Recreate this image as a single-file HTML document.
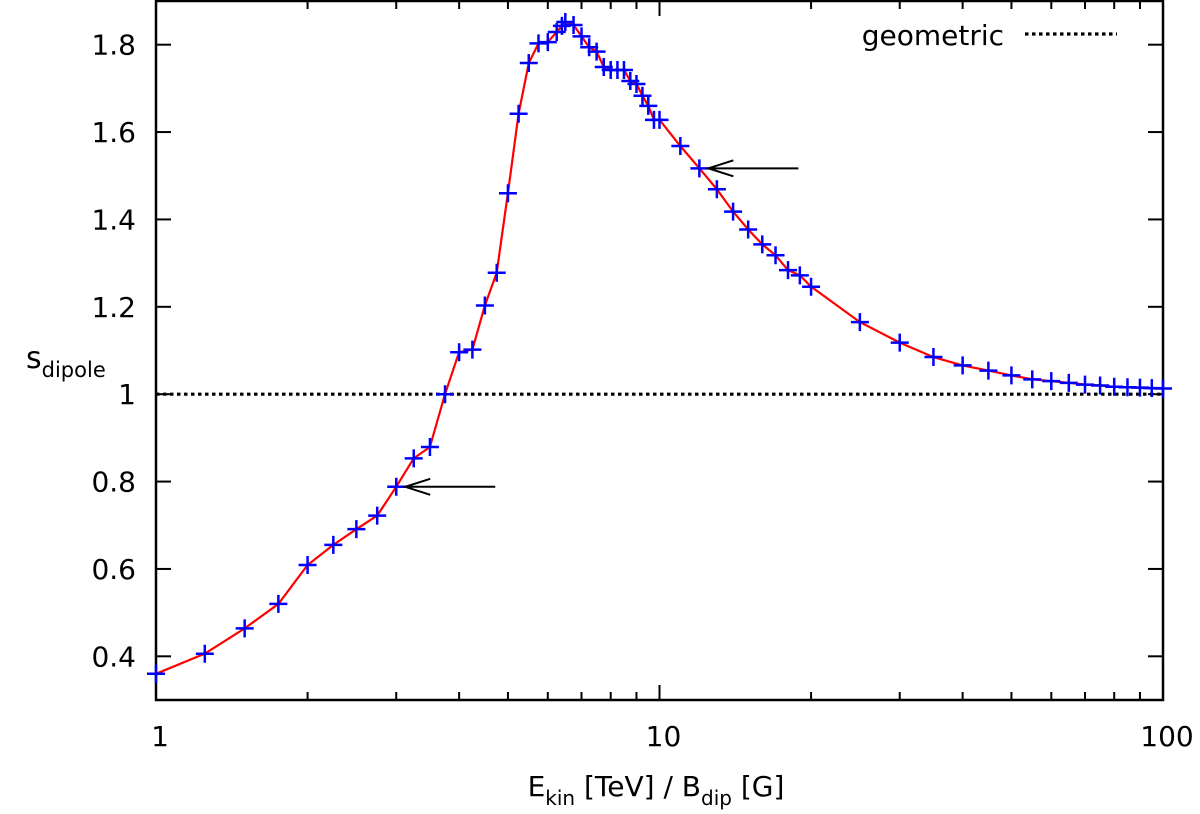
<!DOCTYPE html>
<html><head><meta charset="utf-8"><style>
html,body{margin:0;padding:0;background:#fff;}
svg{display:block;font-family:"DejaVu Sans","Liberation Sans",sans-serif;}
</style></head><body>
<svg id="chart" width="1200" height="814" viewBox="0 0 1200 814" xmlns="http://www.w3.org/2000/svg">
<g id="axes"></g>
<g id="marks"></g>
<g id="legend">
<text x="1004" y="45" font-size="28" text-anchor="end">geometric</text>
<line x1="1025" y1="34" x2="1117" y2="34" stroke="#000" stroke-width="3.2" stroke-dasharray="3.5,3.5"/>
</g>
<text x="26" y="368" font-size="30">s<tspan font-size="21" dy="9">dipole</tspan></text>
<text x="656" y="796" font-size="28" text-anchor="middle">E<tspan font-size="20" dy="9">kin</tspan><tspan dy="-9"> [TeV] / B</tspan><tspan font-size="20" dy="9">dip</tspan><tspan dy="-9"> [G]</tspan></text>
</svg>
<script>
const xValues=[1,1.25,1.5,1.75,2,2.25,2.5,2.75,3,3.25,3.5,3.75,4,4.25,4.5,4.75,5,5.25,5.5,5.75,6,6.25,6.4,6.5,6.75,7,7.25,7.5,7.75,8,8.25,8.5,8.75,9,9.25,9.5,9.75,10,11,12,13,14,15,16,17,18,19,20,25,30,35,40,45,50,55,60,65,70,75,80,85,90,95,100];
const yValues=[0.36,0.406,0.464,0.52,0.609,0.655,0.691,0.722,0.788,0.853,0.879,1.0,1.096,1.102,1.203,1.278,1.46,1.642,1.758,1.803,1.806,1.829,1.843,1.852,1.845,1.819,1.794,1.784,1.749,1.742,1.742,1.742,1.717,1.71,1.683,1.66,1.628,1.628,1.568,1.517,1.469,1.418,1.377,1.343,1.318,1.284,1.272,1.246,1.165,1.118,1.085,1.066,1.054,1.043,1.034,1.03,1.026,1.022,1.02,1.017,1.016,1.015,1.014,1.013];
const yTicks=[0.4,0.6,0.8,1.0,1.2,1.4,1.6,1.8];
const yTickLabels=["0.4","0.6","0.8","1","1.2","1.4","1.6","1.8"];
const xMajor=[1,10,100];
const xMajorLabels=["1","10","100"];
const geometricValue=1.0;
const arrowPoints=[[3.0,0.788],[12.0,1.517]];

const L=156,R=1163,T=1,B=700,Y0=0.3,Y1=1.9;
function sx(v){return L+(R-L)/2*Math.log10(v);}
function sy(v){return B-(v-Y0)/(Y1-Y0)*(B-T);}
const NS="http://www.w3.org/2000/svg";
function mk(tag,attrs,parent){const e=document.createElementNS(NS,tag);for(const k in attrs)e.setAttribute(k,attrs[k]);parent.appendChild(e);return e;}
const ax=document.getElementById('axes'),mg=document.getElementById('marks');

yTicks.forEach((v,i)=>{
  const y=sy(v);
  let t=mk('line',{x1:L,y1:y,x2:L+15,y2:y,stroke:'#000','stroke-width':2},ax);
  
  
  t=mk('line',{x1:R-15,y1:y,x2:R,y2:y,stroke:'#000','stroke-width':2},ax);
  
  
  const lb=mk('text',{x:L-20,y:y+10,'font-size':28,'text-anchor':'end'},ax);
  lb.textContent=yTickLabels[i];
  
  
});
for(let d=1;d<100;d*=10){for(let m=2;m<=9;m++){const x=sx(d*m);
  let t=mk('line',{x1:x,y1:B,x2:x,y2:B-8,stroke:'#000','stroke-width':2},ax);
  
  
  t=mk('line',{x1:x,y1:T,x2:x,y2:T+8,stroke:'#000','stroke-width':2},ax);
  
  
}}
xMajor.forEach((v,i)=>{const x=sx(v);
  let t=mk('line',{x1:x,y1:B,x2:x,y2:B-15,stroke:'#000','stroke-width':2},ax);
  
  
  t=mk('line',{x1:x,y1:T,x2:x,y2:T+15,stroke:'#000','stroke-width':2},ax);
  
  
  const lb=mk('text',{x:x+4,y:746,'font-size':28,'text-anchor':'middle'},ax);
  lb.textContent=xMajorLabels[i];
  
  
});
const fr=mk('rect',{x:L,y:T,width:R-L,height:B-T,fill:'none',stroke:'#000','stroke-width':2.5},ax);



const gl=mk('line',{x1:L,y1:sy(geometricValue),x2:R,y2:sy(geometricValue),stroke:'#000','stroke-width':3.2,'stroke-dasharray':'3.5,3.5'},mg);


const pts=xValues.map((v,i)=>sx(v).toFixed(1)+','+sy(yValues[i]).toFixed(1)).join(' ');
const pl=mk('polyline',{points:pts,fill:'none',stroke:'#f00','stroke-width':2.2},mg);


xValues.forEach((v,i)=>{const x=sx(v),y=sy(yValues[i]);
  const p=mk('path',{d:`M${x-9},${y}H${x+9}M${x},${y-9}V${y+9}`,stroke:'#00f','stroke-width':2.5,fill:'none'},mg);
  
  
});
arrowPoints.forEach(a=>{const x=sx(a[0])+9,y=sy(a[1]);
  const p=mk('path',{d:`M${x},${y}H${x+90}M${x+25},${y-8}L${x},${y}L${x+25},${y+8}`,stroke:'#000','stroke-width':2,fill:'none'},mg);
  
  
});
</script>
</body></html>
